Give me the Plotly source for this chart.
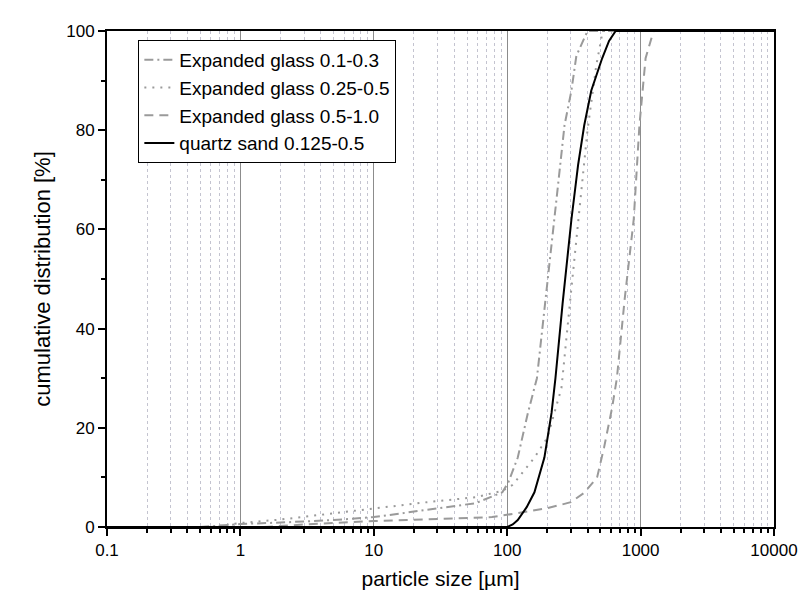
import plotly.graph_objects as go

# ---- data ----
size_a = [0.5, 1, 2, 5, 10, 25, 58, 92, 102, 120, 143, 167, 200, 234, 269, 303, 330, 400, 10000]
cum_a = [0, 0.6, 0.9, 1.4, 2.0, 3.4, 4.8, 7.0, 9.0, 14, 23, 30, 50, 66, 81, 88, 95, 100, 100]

size_b = [0.6, 1, 2, 5, 10, 25, 58, 92, 110, 130, 160, 200, 255, 300, 353, 400, 465, 520, 10000]
cum_b = [0, 0.8, 1.5, 2.8, 3.8, 5.0, 6.0, 7.3, 8.5, 11, 14, 18, 28, 47, 66, 80, 93, 100, 100]

size_c = [1.5, 3, 10, 25, 77, 120, 201, 300, 378, 472, 532, 611, 664, 760, 888, 980, 1090, 1250, 10000]
cum_c = [0, 0.5, 1.2, 1.5, 2.0, 2.8, 3.8, 5.0, 6.9, 10, 16, 24, 30, 46, 62, 81, 94.5, 100, 100]

size_q = [0.1, 100, 110, 120, 140, 160, 190, 215, 230, 260, 303, 340, 378, 427, 515, 580, 650, 10000]
cum_q = [0, 0, 0.5, 1.4, 4, 7, 14, 23, 30, 45, 62, 73, 81, 88, 94.5, 98, 100, 100]

names = ["Expanded glass 0.1-0.3", "Expanded glass 0.25-0.5",
         "Expanded glass 0.5-1.0", "quartz sand 0.125-0.5"]

x_major = [0.1, 1, 10, 100, 1000, 10000]
x_labels = ["0.1", "1", "10", "100", "1000", "10000"]
x_minor = [m * d for d in [0.1, 1, 10, 100, 1000] for m in range(2, 10)]

gray = "#9a9a9a"
fig = go.Figure()
fig.add_trace(go.Scatter(x=size_a, y=cum_a, mode="lines", name=names[0], legendgroup="a",
                         line=dict(color=gray, width=2, dash="9px,4px,2px,4px")))
fig.add_trace(go.Scatter(x=size_b, y=cum_b, mode="lines", name=names[1], legendgroup="b",
                         line=dict(color=gray, width=2, dash="2px,6px")))
fig.add_trace(go.Scatter(x=size_c, y=cum_c, mode="lines", name=names[2], legendgroup="c",
                         line=dict(color=gray, width=2, dash="9px,6px")))
fig.add_trace(go.Scatter(x=size_q, y=cum_q, mode="lines", name=names[3], legendgroup="d",
                         line=dict(color="black", width=2)))

fig.update_layout(
    width=810, height=604,
    margin=dict(l=107, r=28, t=31, b=77),
    paper_bgcolor="white", plot_bgcolor="white",
    font=dict(family="Liberation Sans, Arial, sans-serif", color="black"),
    showlegend=True,
    legend=dict(x=0.047, y=0.982, xanchor="left", yanchor="top",
                bordercolor="black", borderwidth=1, bgcolor="white",
                font=dict(size=19), tracegroupgap=7, traceorder="normal"),
    xaxis=dict(type="log", range=[-1, 4],
               tickvals=x_major, ticktext=x_labels,
               ticks="outside", ticklen=7, tickwidth=1.5, tickcolor="black",
               tickfont=dict(size=17),
               showline=True, linecolor="black", linewidth=2, mirror=True,
               showgrid=True, gridcolor="#8c8c8c", gridwidth=1,
               zeroline=False,
               minor=dict(tickvals=x_minor, ticks="outside", ticklen=4, tickcolor="black",
                          showgrid=True, gridcolor="#c4c4d0", griddash="dot", gridwidth=1),
               title=dict(text="particle size [µm]", font=dict(size=21), standoff=12)),
    yaxis=dict(range=[0, 100], tickvals=[0, 20, 40, 60, 80, 100],
               ticks="outside", ticklen=7, tickwidth=1.5, tickcolor="black",
               tickfont=dict(size=17),
               showline=True, linecolor="black", linewidth=2, mirror=True,
               showgrid=False, zeroline=False,
               minor=dict(tickvals=[10, 30, 50, 70, 90], ticks="outside", ticklen=4,
                          tickcolor="black", showgrid=False),
               title=dict(text="cumulative distribution [%]", font=dict(size=22), standoff=10)),
)

fig.write_html("out.html")
